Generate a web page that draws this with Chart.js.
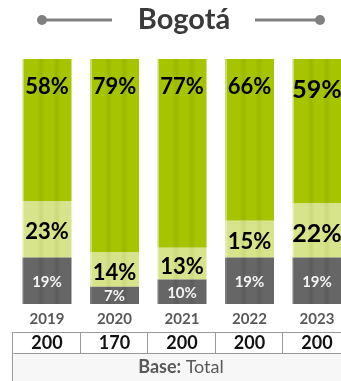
<!DOCTYPE html>
<html>
<head>
<meta charset="utf-8">
<script src="https://cdn.jsdelivr.net/npm/chart.js@4"></script>
<style>
  html, body { margin: 0; padding: 0; background: #fff; overflow: hidden; }
  #wrap { width: 352px; height: 381px; }
</style>
</head>
<body>
<div id="wrap"><canvas id="c" width="352" height="381"></canvas></div>
<script>
// data
const years = ['2019', '2020', '2021', '2022', '2023'];
const low = [19, 7, 10, 19, 19];     // dark grey, bottom
const mid = [23, 14, 13, 15, 22];    // pale green, middle
const high = [58, 79, 77, 66, 59];   // green, top
const bases = [200, 170, 200, 200, 200];
const title = 'Bogotá';

const FONT = 'Lato, "Open Sans", sans-serif';

// vertical stripes on each bar, like the original fill
function stripes(base, dark, edge) {
  return (ctx) => {
    const chart = ctx.chart;
    const xs = chart.scales.x;
    if (!chart.chartArea || !xs) return base;
    const cx = xs.getPixelForValue(ctx.dataIndex);
    const half = xs.width / years.length * 0.726 / 2;
    const g = chart.ctx.createLinearGradient(cx - half, 0, cx + half, 0);
    g.addColorStop(0, edge);
    g.addColorStop(0.035, edge);
    g.addColorStop(0.04, base);
    g.addColorStop(0.3, base);
    g.addColorStop(0.38, dark);
    g.addColorStop(0.46, base);
    g.addColorStop(0.62, base);
    g.addColorStop(0.7, dark);
    g.addColorStop(0.78, base);
    g.addColorStop(1, base);
    return g;
  };
}

const decor = {
  id: 'decor',
  afterDraw(chart) {
    const c = chart.ctx;
    const xs = chart.scales.x;
    c.save();

    // title with lines and dots
    c.fillStyle = '#3a3a3a';
    c.font = 'bold 29px ' + FONT;
    c.textAlign = 'center';
    c.textBaseline = 'alphabetic';
    c.fillText(title, 184, 29);
    c.strokeStyle = '#808080';
    c.fillStyle = '#808080';
    c.lineWidth = 3;
    c.beginPath();
    c.moveTo(42, 20); c.lineTo(112, 20);
    c.moveTo(255, 20); c.lineTo(320, 20);
    c.stroke();
    c.beginPath(); c.arc(42, 20, 5, 0, Math.PI * 2); c.fill();
    c.beginPath(); c.arc(320, 20, 5, 0, Math.PI * 2); c.fill();

    // value labels
    [0, 1, 2].forEach(di => {
      chart.getDatasetMeta(di).data.forEach((bar, i) => {
        const v = chart.data.datasets[di].data[i];
        const big = i === years.length - 1;
        let size, y;
        if (di === 0) {
          size = 15;
          c.fillStyle = '#f4f4f4';
          y = (bar.y + bar.base) / 2 + 1;
        } else {
          size = big ? 25 : 22;
          c.fillStyle = '#000';
          y = di === 2 ? bar.y + size * 1.25 : (bar.y + bar.base) / 2 + 3;
        }
        c.font = 'bold ' + size + 'px ' + FONT;
        c.textAlign = 'center';
        c.textBaseline = 'middle';
        c.fillText(v + '%', bar.x, y);
      });
    });

    // base table
    const w = xs.width / years.length;
    const top = 332, midY = 353, bottom = 390;
    c.fillStyle = '#f7f7f7';
    c.fillRect(xs.left, midY, xs.width, bottom - midY);
    c.strokeStyle = '#9a9a9a';
    c.lineWidth = 1;
    c.beginPath();
    c.moveTo(xs.left, top + 0.5); c.lineTo(xs.right, top + 0.5);
    c.moveTo(xs.left, midY + 0.5); c.lineTo(xs.right, midY + 0.5);
    c.moveTo(Math.round(xs.left) - 0.5, top); c.lineTo(Math.round(xs.left) - 0.5, bottom);
    for (let i = 1; i <= years.length; i++) {
      const x = Math.round(xs.left + i * w) - 0.5;
      c.moveTo(x, top); c.lineTo(x, midY);
    }
    c.stroke();
    c.fillStyle = '#111';
    c.font = 'bold 18px ' + FONT;
    c.textBaseline = 'middle';
    bases.forEach((b, i) => c.fillText(String(b), xs.getPixelForValue(i), 343));

    // "Base: Total"
    c.fillStyle = '#595959';
    const a = 'Base: ';
    c.font = 'bold 18px ' + FONT;
    const wa = c.measureText(a).width;
    c.font = '18px ' + FONT;
    const wb = c.measureText('Total').width;
    const sx = 181 - (wa + wb) / 2;
    c.textAlign = 'left';
    c.font = 'bold 18px ' + FONT;
    c.fillText(a, sx, 367);
    c.font = '18px ' + FONT;
    c.fillText('Total', sx + wa, 367);
    c.restore();
  }
};

new Chart(document.getElementById('c'), {
  type: 'bar',
  data: {
    labels: years,
    datasets: [
      { data: low, backgroundColor: stripes('#666666', '#5c5c5c', '#7a7a7a') },
      { data: mid, backgroundColor: stripes('#d8e48c', '#ccd97c', '#e4edb0') },
      { data: high, backgroundColor: stripes('#a6c400', '#9bb800', '#c8dc70') }
    ]
  },
  options: {
    responsive: false,
    animation: false,
    categoryPercentage: 1,
    barPercentage: 0.726,
    layout: { padding: { top: 59, left: 13.25, right: 1.25, bottom: 47 } },
    plugins: { legend: { display: false }, tooltip: { enabled: false }, title: { display: false } },
    scales: {
      x: {
        stacked: true,
        grid: { display: false, drawTicks: false },
        border: { display: false },
        ticks: { color: '#595959', font: { family: FONT, size: 15, weight: 'bold' }, padding: 6 }
      },
      y: { stacked: true, display: false, min: 0, max: 100 }
    }
  },
  plugins: [decor]
});
</script>
</body>
</html>
